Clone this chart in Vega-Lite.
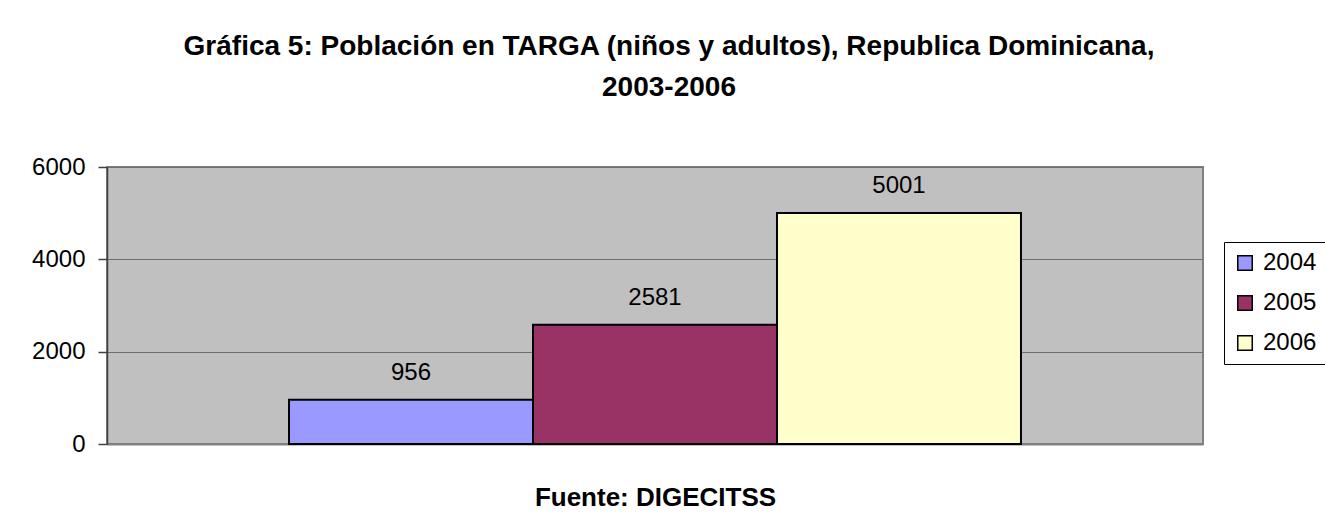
{
  "$schema": "https://vega.github.io/schema/vega-lite/v6.json",
  "autosize": "none",
  "width": 1096,
  "height": 277,
  "padding": {"left": 107, "top": 167, "right": 122, "bottom": 85},
  "background": "white",
  "title": {
    "text": ["Gráfica 5: Población en TARGA (niños y adultos), Republica Dominicana,", "2003-2006"],
    "font": "Liberation Sans",
    "fontSize": 28,
    "fontWeight": "bold",
    "color": "black",
    "anchor": "middle",
    "frame": "group",
    "dx": 14,
    "lineHeight": 41,
    "offset": 53
  },
  "config": {
    "font": "Liberation Sans",
    "view": {"fill": "#C0C0C0", "stroke": "#808080", "strokeWidth": 2}
  },
  "data": {
    "values": [
      {"year": "2004", "value": 956},
      {"year": "2005", "value": 2581},
      {"year": "2006", "value": 5001}
    ]
  },
  "encoding": {
    "x": {
      "field": "year",
      "type": "nominal",
      "scale": {"paddingInner": 0, "paddingOuter": 0.746},
      "axis": {
        "labels": false,
        "ticks": false,
        "domain": true,
        "domainColor": "#808080",
        "domainWidth": 2,
        "title": "Fuente: DIGECITSS",
        "titleFont": "Liberation Sans",
        "titleFontSize": 26,
        "titleFontWeight": "bold",
        "titleColor": "black",
        "titlePadding": 40
      }
    },
    "y": {
      "field": "value",
      "type": "quantitative",
      "scale": {"domain": [0, 6000], "nice": false},
      "axis": {
        "values": [0, 2000, 4000, 6000],
        "format": "d",
        "title": null,
        "labelFontSize": 24,
        "labelColor": "black",
        "labelPadding": 13,
        "tickSize": 9,
        "tickColor": "#404040",
        "tickWidth": 1.5,
        "domainColor": "#404040",
        "domainWidth": 1.5,
        "grid": true,
        "gridColor": "#6e6e6e",
        "gridWidth": 1
      }
    }
  },
  "layer": [
    {
      "mark": {"type": "bar", "stroke": "black", "strokeWidth": 2, "opacity": 1},
      "encoding": {
        "color": {
          "field": "year",
          "type": "nominal",
          "scale": {"domain": ["2004", "2005", "2006"], "range": ["#9999FF", "#993366", "#FFFFCC"]},
          "legend": {
            "orient": "none",
            "legendX": 1117,
            "legendY": 75,
            "title": null,
            "strokeColor": "black",
            "fillColor": "white",
            "padding": 9,
            "symbolType": "square",
            "symbolSize": 210,
            "symbolStrokeColor": "black",
            "symbolStrokeWidth": 1.5,
            "symbolOpacity": 1,
            "labelFontSize": 24,
            "labelColor": "black",
            "labelOffset": 6,
            "rowPadding": 16
          }
        }
      }
    },
    {
      "mark": {"type": "text", "fontSize": 24, "color": "black", "baseline": "alphabetic", "dy": -20},
      "encoding": {
        "text": {"field": "value", "type": "quantitative", "format": "d"}
      }
    }
  ]
}
